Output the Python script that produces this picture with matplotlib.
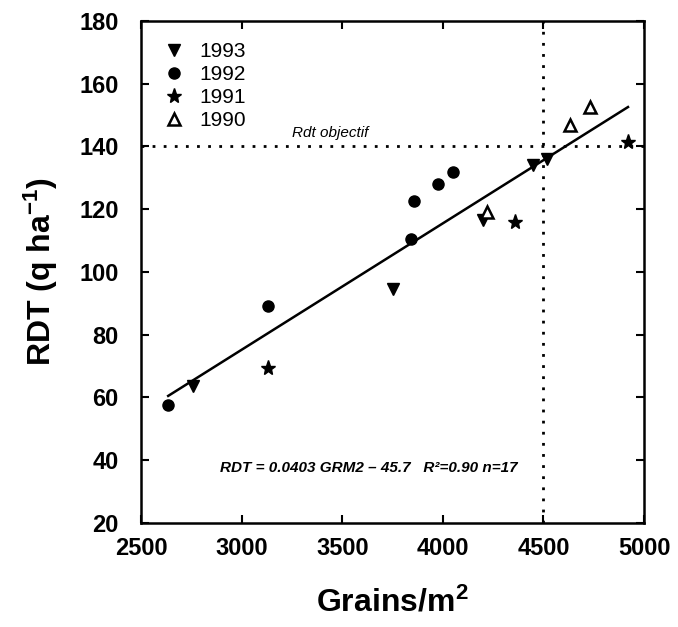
import matplotlib.pyplot as plt
import numpy as np

plt.rcParams['font.family'] = ['Liberation Sans', 'DejaVu Sans']
plt.rcParams['mathtext.fontset'] = 'custom'
plt.rcParams['mathtext.rm'] = 'Liberation Sans:bold'
plt.rcParams['mathtext.bf'] = 'Liberation Sans:bold'
plt.rcParams['mathtext.it'] = 'Liberation Sans:italic:bold'

# data
x1993 = [2757, 3750, 4200, 4450, 4515]
y1993 = [63.5, 94.5, 116.5, 134, 136]
x1992 = [2635, 3130, 3840, 3855, 3975, 4050]
y1992 = [57.5, 89, 110.5, 122.5, 128, 132]
x1991 = [3130, 4360, 4920]
y1991 = [69.5, 116, 141.5]
x1990 = [4220, 4630, 4730]
y1990 = [119, 147, 152.5]

slope, intercept = 0.0403, -45.7
fit_x = np.array([2635, 4920])
rdt_obj = 140
grm_obj = 4500

fig = plt.figure(figsize=(6.78, 6.27), dpi=100)
ax = fig.add_axes([0.208, 0.166, 0.742, 0.8005])

ax.plot(x1993, y1993, 'kv', ms=8, ls='none', label='1993')
ax.plot(x1992, y1992, 'ko', ms=8, ls='none', label='1992')
ax.plot(x1991, y1991, 'k*', ms=11, ls='none', label='1991')
ax.plot(x1990, y1990, '^', ms=8, mfc='white', mec='k', mew=1.8, ls='none', label='1990')

ax.plot(fit_x, slope * fit_x + intercept, 'k-', lw=1.8)

ax.axhline(rdt_obj, color='k', ls=(0, (1, 3)), lw=2)
ax.axvline(grm_obj, color='k', ls=(0, (1, 3)), lw=2)
ax.text(3440, 143, 'Rdt objectif', fontsize=11, style='italic', ha='center')

ax.text(2890, 37.5, 'RDT = 0.0403 GRM2 \u2013 45.7   R\u00b2=0.90 n=17',
        fontsize=11, style='italic', fontweight='bold', va='center')

ax.set_xlim(2500, 5000)
ax.set_ylim(20, 180)
ax.set_xticks(np.arange(2500, 5001, 500))
ax.set_yticks(np.arange(20, 181, 20))
ax.tick_params(direction='in', length=6, width=1.5, top=True, right=True,
               labelsize=17)
ax.tick_params(axis='x', pad=10)
ax.tick_params(axis='y', pad=16)
for lab in ax.get_xticklabels() + ax.get_yticklabels():
    lab.set_fontweight('bold')
for s in ax.spines.values():
    s.set_linewidth(1.8)

ax.set_xlabel('Grains/m$^{2}$', fontsize=23, fontweight='bold', labelpad=20)
ax.set_ylabel('RDT (q ha$^{-1}$)', fontsize=23, fontweight='bold', labelpad=14)

leg = ax.legend(loc='upper left', frameon=False, fontsize=15, handletextpad=0.6,
                labelspacing=0.2, borderaxespad=0.6, handlelength=1.2)

fig.savefig('out.png', dpi=100)
